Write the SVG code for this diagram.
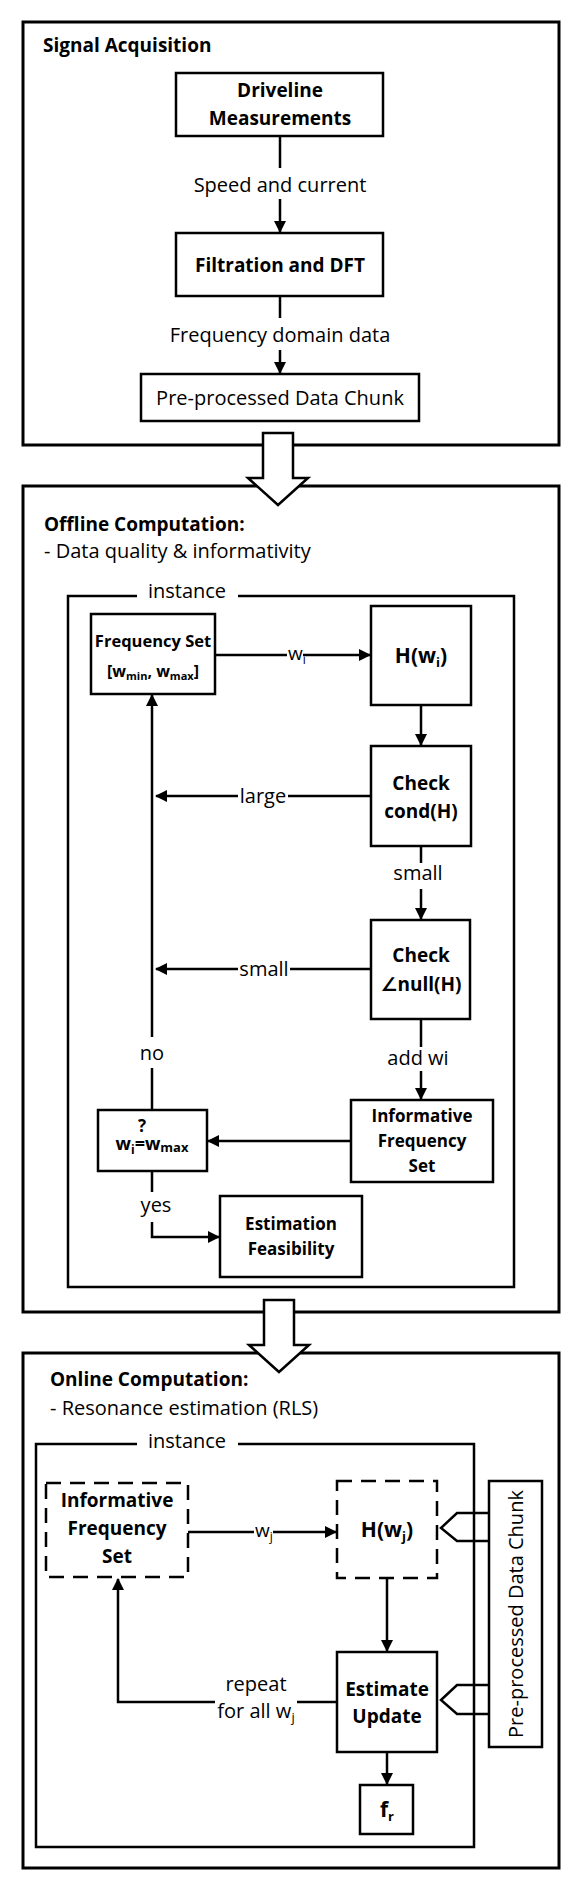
<svg xmlns="http://www.w3.org/2000/svg" width="582" height="1877" viewBox="0 0 582 1877">
<defs>
<marker id="ah" markerWidth="12" markerHeight="12" refX="11" refY="6" orient="auto" markerUnits="userSpaceOnUse"><path d="M0,0 L12,6 L0,12 z" fill="#000"/></marker>
<style>
.box{fill:#fff;stroke:#000;stroke-width:2.5}
.outer{fill:none;stroke:#000;stroke-width:3}
.dash{fill:#fff;stroke:#000;stroke-width:2.5;stroke-dasharray:15 9}
.ln{fill:none;stroke:#000;stroke-width:2.5}
.arr{marker-end:url(#ah)}
.big{fill:#fff;stroke:#000;stroke-width:2.5;stroke-linejoin:miter}
text{font-family:"Open Sans","DejaVu Sans",sans-serif;fill:#000;font-size:20px}
.b{font-weight:bold;font-size:19px}
.m{text-anchor:middle}
.s17{font-size:17px}
</style>
</defs>
<rect width="582" height="1877" fill="#fff"/>

<g id="signal-acquisition">
<rect class="outer" x="23" y="22" width="536" height="423"/>
<text class="b" x="43" y="52">Signal Acquisition</text>
</g>
<g id="offline-computation">
<rect class="outer" x="23" y="486" width="536" height="826"/>
<text class="b" x="44" y="531">Offline Computation:</text>
<text x="44" y="558">- Data quality &amp; informativity</text>
<path class="ln" d="M137,596 H68 V1287 H514 V596 H238"/>
<text class="m" x="187" y="598">instance</text>
</g>
<g id="online-computation">
<rect class="outer" x="23" y="1353" width="536" height="515"/>
<text class="b" x="50" y="1386">Online Computation:</text>
<text x="50" y="1415">- Resonance estimation (RLS)</text>
<path class="ln" d="M137,1444 H36 V1847 H474 V1444 H238"/>
<text class="m" x="187" y="1448">instance</text>
</g>

<g id="connectors">
<line class="ln" x1="280" y1="136" x2="280" y2="168"/>
<text class="m" x="280" y="192">Speed and current</text>
<line class="ln arr" x1="280" y1="199" x2="280" y2="232"/>
<line class="ln" x1="280" y1="296" x2="280" y2="318"/>
<text class="m" x="280" y="342">Frequency domain data</text>
<line class="ln arr" x1="280" y1="350" x2="280" y2="373"/>

<line class="ln" x1="215" y1="655" x2="287" y2="655"/>
<text x="288" y="660" style="font-size:19px">w<tspan style="font-size:12px" dy="4">i</tspan></text>
<line class="ln arr" x1="303" y1="655" x2="370" y2="655"/>
<line class="ln arr" x1="421" y1="705" x2="421" y2="745"/>
<line class="ln" x1="371" y1="796" x2="288" y2="796"/>
<text class="m" x="263" y="803">large</text>
<line class="ln arr" x1="238" y1="796" x2="156" y2="796"/>
<line class="ln" x1="421" y1="846" x2="421" y2="863"/>
<text class="m" x="418" y="880">small</text>
<line class="ln arr" x1="421" y1="889" x2="421" y2="919"/>
<line class="ln" x1="371" y1="969" x2="290" y2="969"/>
<text class="m" x="264" y="976">small</text>
<line class="ln arr" x1="238" y1="969" x2="156" y2="969"/>
<line class="ln" x1="421" y1="1019" x2="421" y2="1047"/>
<text class="m" x="418" y="1065">add wi</text>
<line class="ln arr" x1="421" y1="1071" x2="421" y2="1099"/>
<line class="ln arr" x1="351" y1="1141" x2="208" y2="1141"/>
<line class="ln" x1="152" y1="1110" x2="152" y2="1068"/>
<text class="m" x="152" y="1060">no</text>
<line class="ln arr" x1="152" y1="1037" x2="152" y2="695"/>
<line class="ln" x1="152" y1="1171" x2="152" y2="1192"/>
<text class="m" x="156" y="1212">yes</text>
<path class="ln arr" d="M152,1222 V1237 H219"/>

<line class="ln" x1="188" y1="1532" x2="254" y2="1532"/>
<text x="255" y="1537" style="font-size:19px">w<tspan style="font-size:12px" dy="4">j</tspan></text>
<line class="ln arr" x1="273" y1="1532" x2="336" y2="1532"/>
<line class="ln arr" x1="387" y1="1578" x2="387" y2="1651"/>
<line class="ln" x1="337" y1="1702" x2="297" y2="1702"/>
<text class="m" x="256" y="1691">repeat</text>
<text class="m" x="256" y="1718">for all w<tspan style="font-size:13px" dy="4">j</tspan></text>
<path class="ln arr" d="M215,1702 H118 V1579"/>
<line class="ln arr" x1="387" y1="1752" x2="387" y2="1784"/>
<path class="ln" d="M489,1513 H457 L441,1528 L457,1541 H489"/>
<path class="ln" d="M489,1685 H457 L441,1700 L457,1714 H489"/>
</g>

<g id="driveline-measurements">
<rect class="box" x="176" y="73" width="207" height="63"/>
<text class="b m" x="280" y="97">Driveline</text>
<text class="b m" x="280" y="125">Measurements</text>
</g>
<g id="filtration-dft">
<rect class="box" x="176" y="233" width="207" height="63"/>
<text class="b m" x="280" y="272">Filtration and DFT</text>
</g>
<g id="preprocessed-chunk">
<rect class="box" x="141" y="374" width="278" height="47"/>
<text class="m" x="280" y="405">Pre-processed Data Chunk</text>
</g>

<g id="frequency-set">
<rect class="box" x="91" y="614" width="124" height="80"/>
<text class="b m" x="153" y="647" style="font-size:16.5px">Frequency Set</text>
<text class="b m" x="153" y="677" style="font-size:16px">[w<tspan style="font-size:11px" dy="3">min</tspan><tspan dy="-3">, w</tspan><tspan style="font-size:11px" dy="3">max</tspan><tspan dy="-3">]</tspan></text>
</g>
<g id="h-wi">
<rect class="box" x="371" y="606" width="100" height="99"/>
<text class="b m" x="421" y="663" style="font-size:21px">H(w<tspan style="font-size:13px" dy="4">i</tspan><tspan dy="-4">)</tspan></text>
</g>
<g id="check-cond">
<rect class="box" x="371" y="746" width="100" height="100"/>
<text class="b m" x="421" y="790">Check</text>
<text class="b m" x="421" y="818">cond(H)</text>
</g>
<g id="check-null">
<rect class="box" x="371" y="920" width="99" height="99"/>
<text class="b m" x="421" y="962">Check</text>
<text class="b m" x="421" y="991">∠null(H)</text>
</g>
<g id="informative-set-offline">
<rect class="box" x="351" y="1100" width="142" height="82"/>
<text class="b m s17" x="422" y="1122">Informative</text>
<text class="b m s17" x="422" y="1147">Frequency</text>
<text class="b m s17" x="422" y="1172">Set</text>
</g>
<g id="wi-eq-wmax">
<rect class="box" x="98" y="1110" width="109" height="61"/>
<text class="b m" x="142" y="1132" style="font-size:17px">?</text>
<text class="b m" x="152" y="1150" style="font-size:18px">w<tspan style="font-size:12px" dy="4">i</tspan><tspan dy="-4">=w</tspan><tspan style="font-size:13px" dy="2">max</tspan></text>
</g>
<g id="estimation-feasibility">
<rect class="box" x="220" y="1196" width="142" height="81"/>
<text class="b m s17" x="291" y="1230">Estimation</text>
<text class="b m s17" x="291" y="1255">Feasibility</text>
</g>

<g id="informative-set-online">
<rect class="dash" x="46" y="1483" width="142" height="94"/>
<text class="b m" x="117" y="1507">Informative</text>
<text class="b m" x="117" y="1535">Frequency</text>
<text class="b m" x="117" y="1563">Set</text>
</g>
<g id="h-wj">
<rect class="dash" x="337" y="1481" width="100" height="97"/>
<text class="b m" x="387" y="1537" style="font-size:21px">H(w<tspan style="font-size:13px" dy="4">j</tspan><tspan dy="-4">)</tspan></text>
</g>
<g id="estimate-update">
<rect class="box" x="337" y="1652" width="100" height="100"/>
<text class="b m" x="387" y="1696">Estimate</text>
<text class="b m" x="387" y="1723">Update</text>
</g>
<g id="fr">
<rect class="box" x="360" y="1785" width="53" height="49"/>
<text class="b m" x="387" y="1817" style="font-size:21px">f<tspan style="font-size:13px" dy="4">r</tspan></text>
</g>
<g id="preprocessed-chunk-online">
<rect class="box" x="489" y="1481" width="53" height="266"/>
<text class="m" transform="translate(523,1614) rotate(-90)">Pre-processed Data Chunk</text>
</g>

<g id="flow-arrows">
<path class="big" d="M263,433 H293 V478 H308 L278,505 L248,478 H263 Z"/>
<path class="big" d="M264,1300 H294 V1345 H309 L279,1372 L249,1345 H264 Z"/>
</g>
</svg>
